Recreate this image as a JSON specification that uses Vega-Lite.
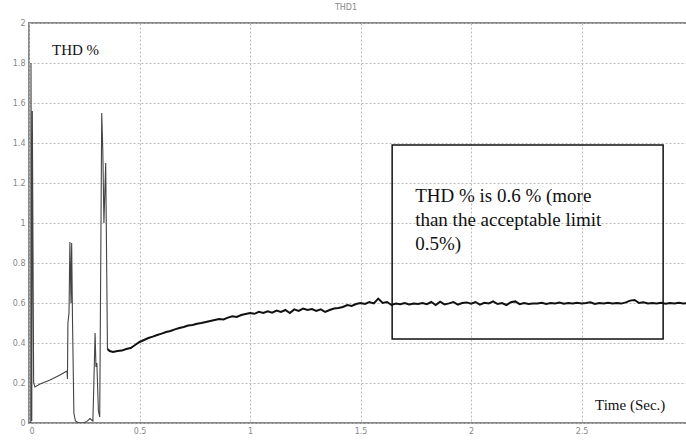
{
  "$schema": "https://vega.github.io/schema/vega-lite/v6.json",
  "width": 658,
  "height": 400,
  "autosize": "none",
  "padding": {"left": 29, "top": 23, "right": 0, "bottom": 18},
  "background": "white",
  "view": {"stroke": "#888", "strokeWidth": 2},
  "title": {"text": "THD1", "fontSize": 8, "color": "#888", "fontWeight": "normal", "font": "DejaVu Sans", "offset": 7, "dx": -12},
  "encoding": {
    "x": {"field": "t", "type": "quantitative", "title": null, "scale": {"domain": [0, 2.977], "nice": false, "zero": false}, "axis": {"values": [0, 0.5, 1, 1.5, 2, 2.5], "format": "~g", "grid": true, "labelOverlap": false, "domain": false, "ticks": false, "labelFont": "DejaVu Sans", "labelFontSize": 8, "labelColor": "#888", "labelPadding": 4, "gridColor": "#bbb", "gridDash": [2, 2], "gridWidth": 1}},
    "y": {"field": "thd", "type": "quantitative", "title": null, "scale": {"domain": [0, 2], "nice": false}, "axis": {"values": [0, 0.2, 0.4, 0.6, 0.8, 1, 1.2, 1.4, 1.6, 1.8, 2], "format": "~g", "grid": true, "labelOverlap": false, "domain": false, "ticks": false, "labelFont": "DejaVu Sans", "labelFontSize": 8, "labelColor": "#888", "labelPadding": 4, "gridColor": "#bbb", "gridDash": [2, 2], "gridWidth": 1}}
  },
  "datasets": {
    "early": [
      {"t": 0.0, "thd": 0.0},
      {"t": 0.008, "thd": 0.0},
      {"t": 0.009, "thd": 1.8},
      {"t": 0.0125, "thd": 0.01},
      {"t": 0.015, "thd": 1.56},
      {"t": 0.021, "thd": 0.2},
      {"t": 0.027, "thd": 0.18},
      {"t": 0.05, "thd": 0.195},
      {"t": 0.095, "thd": 0.215},
      {"t": 0.14, "thd": 0.24},
      {"t": 0.172, "thd": 0.26},
      {"t": 0.174, "thd": 0.22},
      {"t": 0.176, "thd": 0.5},
      {"t": 0.181, "thd": 0.55},
      {"t": 0.185, "thd": 0.905},
      {"t": 0.19, "thd": 0.6},
      {"t": 0.193, "thd": 0.9},
      {"t": 0.197, "thd": 0.5},
      {"t": 0.203, "thd": 0.05},
      {"t": 0.21, "thd": 0.01},
      {"t": 0.225, "thd": 0.0},
      {"t": 0.245, "thd": 0.0},
      {"t": 0.262, "thd": 0.008},
      {"t": 0.276, "thd": 0.022},
      {"t": 0.289, "thd": 0.01},
      {"t": 0.293, "thd": 0.18},
      {"t": 0.299, "thd": 0.45},
      {"t": 0.303, "thd": 0.28},
      {"t": 0.307, "thd": 0.3},
      {"t": 0.314, "thd": 0.06},
      {"t": 0.32, "thd": 0.03},
      {"t": 0.329, "thd": 1.55},
      {"t": 0.334, "thd": 1.36},
      {"t": 0.339, "thd": 1.0},
      {"t": 0.347, "thd": 1.3},
      {"t": 0.355, "thd": 0.37}
    ],
    "main": [
      {"t": 0.355, "thd": 0.37},
      {"t": 0.365, "thd": 0.36},
      {"t": 0.38, "thd": 0.355},
      {"t": 0.40, "thd": 0.36},
      {"t": 0.42, "thd": 0.362},
      {"t": 0.44, "thd": 0.37},
      {"t": 0.46, "thd": 0.375},
      {"t": 0.48, "thd": 0.39},
      {"t": 0.50, "thd": 0.405},
      {"t": 0.52, "thd": 0.415},
      {"t": 0.54, "thd": 0.425},
      {"t": 0.56, "thd": 0.432},
      {"t": 0.58, "thd": 0.44},
      {"t": 0.60, "thd": 0.447},
      {"t": 0.62, "thd": 0.455},
      {"t": 0.64, "thd": 0.46},
      {"t": 0.66, "thd": 0.468},
      {"t": 0.68, "thd": 0.475},
      {"t": 0.70, "thd": 0.48},
      {"t": 0.72, "thd": 0.487},
      {"t": 0.74, "thd": 0.49},
      {"t": 0.76, "thd": 0.496},
      {"t": 0.78, "thd": 0.50},
      {"t": 0.80, "thd": 0.505},
      {"t": 0.82, "thd": 0.51},
      {"t": 0.84, "thd": 0.515},
      {"t": 0.86, "thd": 0.52},
      {"t": 0.88, "thd": 0.518},
      {"t": 0.90, "thd": 0.527},
      {"t": 0.92, "thd": 0.534},
      {"t": 0.94, "thd": 0.53},
      {"t": 0.96, "thd": 0.54},
      {"t": 0.98, "thd": 0.545},
      {"t": 1.00, "thd": 0.55},
      {"t": 1.02, "thd": 0.546},
      {"t": 1.04, "thd": 0.556},
      {"t": 1.06, "thd": 0.55},
      {"t": 1.08, "thd": 0.558},
      {"t": 1.10, "thd": 0.552},
      {"t": 1.12, "thd": 0.562},
      {"t": 1.14, "thd": 0.555},
      {"t": 1.16, "thd": 0.565},
      {"t": 1.18, "thd": 0.55},
      {"t": 1.20, "thd": 0.568},
      {"t": 1.22, "thd": 0.56},
      {"t": 1.24, "thd": 0.572},
      {"t": 1.26, "thd": 0.565},
      {"t": 1.28, "thd": 0.57},
      {"t": 1.30, "thd": 0.56},
      {"t": 1.32, "thd": 0.568},
      {"t": 1.34, "thd": 0.555},
      {"t": 1.36, "thd": 0.565},
      {"t": 1.38, "thd": 0.572},
      {"t": 1.40, "thd": 0.575},
      {"t": 1.42, "thd": 0.58},
      {"t": 1.44, "thd": 0.59},
      {"t": 1.46, "thd": 0.585},
      {"t": 1.48, "thd": 0.595},
      {"t": 1.50, "thd": 0.6},
      {"t": 1.52, "thd": 0.595},
      {"t": 1.54, "thd": 0.605},
      {"t": 1.56, "thd": 0.598},
      {"t": 1.58, "thd": 0.622},
      {"t": 1.60, "thd": 0.6},
      {"t": 1.62, "thd": 0.605},
      {"t": 1.64, "thd": 0.59},
      {"t": 1.66, "thd": 0.597},
      {"t": 1.68, "thd": 0.594},
      {"t": 1.70, "thd": 0.6},
      {"t": 1.72, "thd": 0.593},
      {"t": 1.74, "thd": 0.598},
      {"t": 1.76, "thd": 0.595},
      {"t": 1.78, "thd": 0.6},
      {"t": 1.80, "thd": 0.594},
      {"t": 1.82, "thd": 0.605},
      {"t": 1.84, "thd": 0.59},
      {"t": 1.86, "thd": 0.607},
      {"t": 1.88, "thd": 0.593},
      {"t": 1.90, "thd": 0.598},
      {"t": 1.92, "thd": 0.605},
      {"t": 1.94, "thd": 0.592},
      {"t": 1.96, "thd": 0.6},
      {"t": 1.98, "thd": 0.603},
      {"t": 2.00, "thd": 0.596},
      {"t": 2.02, "thd": 0.605},
      {"t": 2.04, "thd": 0.592},
      {"t": 2.06, "thd": 0.601},
      {"t": 2.08, "thd": 0.598},
      {"t": 2.10, "thd": 0.608},
      {"t": 2.12, "thd": 0.595},
      {"t": 2.14, "thd": 0.6},
      {"t": 2.16, "thd": 0.59},
      {"t": 2.18, "thd": 0.604},
      {"t": 2.20, "thd": 0.608},
      {"t": 2.22, "thd": 0.594},
      {"t": 2.24, "thd": 0.6},
      {"t": 2.26, "thd": 0.595},
      {"t": 2.28, "thd": 0.598},
      {"t": 2.30, "thd": 0.597},
      {"t": 2.32, "thd": 0.601},
      {"t": 2.34, "thd": 0.595},
      {"t": 2.36, "thd": 0.6},
      {"t": 2.38, "thd": 0.598},
      {"t": 2.40, "thd": 0.602},
      {"t": 2.42, "thd": 0.596},
      {"t": 2.44, "thd": 0.6},
      {"t": 2.46, "thd": 0.597},
      {"t": 2.48, "thd": 0.601},
      {"t": 2.50, "thd": 0.598},
      {"t": 2.52, "thd": 0.6},
      {"t": 2.54, "thd": 0.604},
      {"t": 2.56, "thd": 0.595},
      {"t": 2.58, "thd": 0.6},
      {"t": 2.60, "thd": 0.597},
      {"t": 2.62, "thd": 0.601},
      {"t": 2.64, "thd": 0.598},
      {"t": 2.66, "thd": 0.6},
      {"t": 2.68, "thd": 0.597},
      {"t": 2.70, "thd": 0.603},
      {"t": 2.72, "thd": 0.612},
      {"t": 2.74, "thd": 0.615},
      {"t": 2.76, "thd": 0.6},
      {"t": 2.78, "thd": 0.604},
      {"t": 2.80, "thd": 0.598},
      {"t": 2.82, "thd": 0.6},
      {"t": 2.84, "thd": 0.597},
      {"t": 2.86, "thd": 0.601},
      {"t": 2.88, "thd": 0.596},
      {"t": 2.90, "thd": 0.6},
      {"t": 2.92, "thd": 0.598},
      {"t": 2.94, "thd": 0.601},
      {"t": 2.96, "thd": 0.598},
      {"t": 2.98, "thd": 0.6}
    ],
    "box": [{"t": 1.643, "t2": 2.869, "thd": 0.42, "thd2": 1.39}],
    "labels": [
      {"t": 0.104, "thd": 1.865, "txt": "THD %"},
      {"t": 2.561, "thd": 0.09, "txt": "Time (Sec.)"}
    ],
    "note": [{"t": 1.747, "thd": 1.18, "txt": "THD % is 0.6 % (more\nthan the acceptable limit\n0.5%)"}]
  },
  "layer": [
    {
      "data": {"name": "early"},
      "mark": {"type": "line", "color": "#444", "strokeWidth": 1.1, "clip": true}
    },
    {
      "data": {"name": "main"},
      "mark": {"type": "line", "color": "#111", "strokeWidth": 2, "clip": true}
    },
    {
      "data": {"name": "box"},
      "mark": {"type": "rect", "fill": null, "fillOpacity": 0, "stroke": "#111", "strokeWidth": 1.5},
      "encoding": {
        "x2": {"field": "t2"},
        "y2": {"field": "thd2"}
      }
    },
    {
      "data": {"name": "labels"},
      "mark": {"type": "text", "font": "Liberation Serif", "fontSize": 15, "align": "left", "baseline": "middle", "color": "#111"},
      "encoding": {
        "text": {"field": "txt"}
      }
    },
    {
      "data": {"name": "note"},
      "mark": {"type": "text", "font": "Liberation Serif", "fontSize": 19, "lineHeight": 24, "lineBreak": "\n", "align": "left", "baseline": "top", "color": "#111"},
      "encoding": {
        "text": {"field": "txt"}
      }
    }
  ]
}
